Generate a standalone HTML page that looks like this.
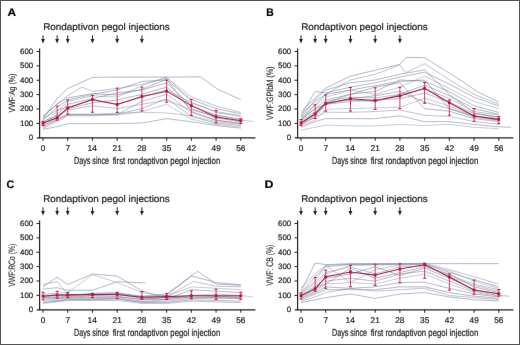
<!DOCTYPE html>
<html><head><meta charset="utf-8"><style>
html,body{margin:0;padding:0;background:#fff;}
svg{display:block;}
#w{width:520px;height:345px;overflow:hidden;}
text{font-family:"Liberation Sans",sans-serif;font-kerning:none;text-rendering:geometricPrecision;}
</style></head><body>
<div id="w"><svg width="520" height="345" viewBox="0 0 520 345">
<defs><filter id="bl" x="0" y="0" width="1" height="1" color-interpolation-filters="sRGB"><feConvolveMatrix order="3" kernelMatrix="0.00163 0.03713 0.00163 0.03713 0.84497 0.03713 0.00163 0.03713 0.00163" divisor="1" edgeMode="duplicate" preserveAlpha="true"/></filter></defs>
<g filter="url(#bl)">
<rect x="0" y="0" width="520" height="345" fill="#fff"/>
<text transform="translate(7.403,15.600) scale(1.0794,1)" style="font-weight:bold;font-size:11.047px;fill:#000;white-space:pre;stroke:#231f20;stroke-width:0.22px;;">A</text>
<text transform="translate(43.187,30.000) scale(1.0255,1)" style="font-size:9.660px;fill:#231f20;white-space:pre;stroke:#231f20;stroke-width:0.22px;;">Rondaptivon pegol injections</text>
<line x1="43.00" y1="35.30" x2="43.00" y2="40.00" stroke="#231f20" stroke-width="1"/>
<path d="M41.10,38.90 L44.90,38.90 L43.00,43.60 Z" fill="#231f20"/>
<line x1="57.13" y1="35.30" x2="57.13" y2="40.00" stroke="#231f20" stroke-width="1"/>
<path d="M55.23,38.90 L59.03,38.90 L57.13,43.60 Z" fill="#231f20"/>
<line x1="67.72" y1="35.30" x2="67.72" y2="40.00" stroke="#231f20" stroke-width="1"/>
<path d="M65.82,38.90 L69.62,38.90 L67.72,43.60 Z" fill="#231f20"/>
<line x1="92.45" y1="35.30" x2="92.45" y2="40.00" stroke="#231f20" stroke-width="1"/>
<path d="M90.55,38.90 L94.35,38.90 L92.45,43.60 Z" fill="#231f20"/>
<line x1="117.18" y1="35.30" x2="117.18" y2="40.00" stroke="#231f20" stroke-width="1"/>
<path d="M115.28,38.90 L119.08,38.90 L117.18,43.60 Z" fill="#231f20"/>
<line x1="141.90" y1="35.30" x2="141.90" y2="40.00" stroke="#231f20" stroke-width="1"/>
<path d="M140.00,38.90 L143.80,38.90 L141.90,43.60 Z" fill="#231f20"/>
<polyline points="43.00,118.67 57.13,98.60 67.72,88.57 92.45,77.39 117.18,77.10 141.90,77.10 166.62,77.10 200.53,76.81 217.49,89.14 240.80,99.60" fill="none" stroke="#66708e" stroke-width="1.0" stroke-opacity="0.5" stroke-linejoin="round"/>
<polyline points="43.00,115.80 57.13,104.33 67.72,95.73 81.85,87.13 92.45,91.43 117.18,88.57 141.90,84.27 166.62,77.82 191.35,96.88 216.08,106.05 240.80,112.50" fill="none" stroke="#8088a4" stroke-width="1.0" stroke-opacity="0.5" stroke-linejoin="round"/>
<polyline points="43.00,120.10 57.13,107.20 67.72,100.03 92.45,94.30 117.18,90.00 141.90,81.40 166.62,79.97 191.35,99.46 216.08,108.63 240.80,113.79" fill="none" stroke="#6c7692" stroke-width="1.0" stroke-opacity="0.5" stroke-linejoin="round"/>
<polyline points="43.00,122.97 57.13,111.50 67.72,101.47 92.45,95.73 117.18,97.17 141.90,85.70 166.62,77.10 191.35,102.18 216.08,112.50 240.80,116.52" fill="none" stroke="#9096ae" stroke-width="1.0" stroke-opacity="0.5" stroke-linejoin="round"/>
<polyline points="43.00,124.40 57.13,114.37 67.72,104.33 92.45,98.60 117.18,92.87 141.90,90.00 166.62,82.83 191.35,106.05 216.08,115.08 240.80,119.10" fill="none" stroke="#68748f" stroke-width="1.0" stroke-opacity="0.5" stroke-linejoin="round"/>
<polyline points="43.00,121.53 57.13,115.80 67.72,108.63 92.45,102.90 117.18,100.03 141.90,94.30 166.62,87.13 191.35,108.63 216.08,117.81 240.80,121.68" fill="none" stroke="#66708e" stroke-width="1.0" stroke-opacity="0.5" stroke-linejoin="round"/>
<polyline points="43.00,125.83 57.13,118.67 67.72,114.37 92.45,114.65 117.18,114.37 141.90,101.47 166.62,94.30 191.35,112.50 216.08,120.39 240.80,122.97" fill="none" stroke="#8088a4" stroke-width="1.0" stroke-opacity="0.5" stroke-linejoin="round"/>
<polyline points="43.00,127.27 57.13,120.10 67.72,115.08 92.45,115.08 117.18,114.08 141.90,108.63 166.62,98.60 191.35,116.52 216.08,122.97 240.80,125.55" fill="none" stroke="#6c7692" stroke-width="1.0" stroke-opacity="0.5" stroke-linejoin="round"/>
<polyline points="43.00,128.70 57.13,121.53 67.72,115.80 92.45,115.80 117.18,115.08 141.90,111.50 166.62,104.33 191.35,119.10 216.08,124.40 240.80,126.98" fill="none" stroke="#9096ae" stroke-width="1.0" stroke-opacity="0.5" stroke-linejoin="round"/>
<polyline points="43.00,129.42 57.13,126.55 67.72,123.68 92.45,123.68 117.18,123.54 141.90,122.97 166.62,118.67 191.35,121.68 216.08,125.55 240.80,128.13" fill="none" stroke="#68748f" stroke-width="1.0" stroke-opacity="0.5" stroke-linejoin="round"/>
<polyline points="43.00,117.23 57.13,103.62 67.72,97.88 92.45,93.58 117.18,95.02 141.90,89.28 166.62,79.25 191.35,111.50 216.08,120.10 240.80,123.68" fill="none" stroke="#66708e" stroke-width="1.0" stroke-opacity="0.5" stroke-linejoin="round"/>
<polyline points="43.00,122.97 57.13,117.23 67.72,110.07 92.45,105.77 117.18,108.63 141.90,104.33 166.62,100.03 191.35,110.07 216.08,115.80 240.80,120.10 253.16,121.53" fill="none" stroke="#8088a4" stroke-width="1.0" stroke-opacity="0.5" stroke-linejoin="round"/>
<polyline points="43.00,118.67 57.13,110.07 67.72,107.20 92.45,100.03 117.18,104.33 141.90,97.17 166.62,90.00 191.35,102.90 216.08,111.50 240.80,115.80" fill="none" stroke="#6c7692" stroke-width="1.0" stroke-opacity="0.5" stroke-linejoin="round"/>
<polyline points="43.00,125.12 57.13,120.10 67.72,114.08 92.45,114.08 117.18,113.22 141.90,112.22 166.62,112.93 191.35,115.80 216.08,121.53 240.80,124.40" fill="none" stroke="#9096ae" stroke-width="1.0" stroke-opacity="0.5" stroke-linejoin="round"/>
<line x1="43.00" y1="125.69" x2="43.00" y2="121.39" stroke="#d03a66" stroke-width="1.0"/>
<line x1="41.50" y1="125.69" x2="44.50" y2="125.69" stroke="#b3173f" stroke-width="1"/>
<line x1="41.50" y1="121.39" x2="44.50" y2="121.39" stroke="#b3173f" stroke-width="1"/>
<line x1="57.13" y1="120.10" x2="57.13" y2="106.05" stroke="#d03a66" stroke-width="1.0"/>
<line x1="55.63" y1="120.10" x2="58.63" y2="120.10" stroke="#b3173f" stroke-width="1"/>
<line x1="55.63" y1="106.05" x2="58.63" y2="106.05" stroke="#b3173f" stroke-width="1"/>
<line x1="67.72" y1="114.22" x2="67.72" y2="100.03" stroke="#d03a66" stroke-width="1.0"/>
<line x1="66.22" y1="114.22" x2="69.22" y2="114.22" stroke="#b3173f" stroke-width="1"/>
<line x1="66.22" y1="100.03" x2="69.22" y2="100.03" stroke="#b3173f" stroke-width="1"/>
<line x1="92.45" y1="112.22" x2="92.45" y2="95.59" stroke="#d03a66" stroke-width="1.0"/>
<line x1="90.95" y1="112.22" x2="93.95" y2="112.22" stroke="#b3173f" stroke-width="1"/>
<line x1="90.95" y1="95.59" x2="93.95" y2="95.59" stroke="#b3173f" stroke-width="1"/>
<line x1="117.18" y1="112.36" x2="117.18" y2="88.14" stroke="#d03a66" stroke-width="1.0"/>
<line x1="115.68" y1="112.36" x2="118.68" y2="112.36" stroke="#b3173f" stroke-width="1"/>
<line x1="115.68" y1="88.14" x2="118.68" y2="88.14" stroke="#b3173f" stroke-width="1"/>
<line x1="141.90" y1="110.93" x2="141.90" y2="87.13" stroke="#d03a66" stroke-width="1.0"/>
<line x1="140.40" y1="110.93" x2="143.40" y2="110.93" stroke="#b3173f" stroke-width="1"/>
<line x1="140.40" y1="87.13" x2="143.40" y2="87.13" stroke="#b3173f" stroke-width="1"/>
<line x1="166.62" y1="102.18" x2="166.62" y2="80.11" stroke="#d03a66" stroke-width="1.0"/>
<line x1="165.12" y1="102.18" x2="168.12" y2="102.18" stroke="#b3173f" stroke-width="1"/>
<line x1="165.12" y1="80.11" x2="168.12" y2="80.11" stroke="#b3173f" stroke-width="1"/>
<line x1="191.35" y1="115.37" x2="191.35" y2="99.46" stroke="#d03a66" stroke-width="1.0"/>
<line x1="189.85" y1="115.37" x2="192.85" y2="115.37" stroke="#b3173f" stroke-width="1"/>
<line x1="189.85" y1="99.46" x2="192.85" y2="99.46" stroke="#b3173f" stroke-width="1"/>
<line x1="216.08" y1="122.97" x2="216.08" y2="110.35" stroke="#d03a66" stroke-width="1.0"/>
<line x1="214.58" y1="122.97" x2="217.58" y2="122.97" stroke="#b3173f" stroke-width="1"/>
<line x1="214.58" y1="110.35" x2="217.58" y2="110.35" stroke="#b3173f" stroke-width="1"/>
<line x1="240.80" y1="123.54" x2="240.80" y2="118.81" stroke="#d03a66" stroke-width="1.0"/>
<line x1="239.30" y1="123.54" x2="242.30" y2="123.54" stroke="#b3173f" stroke-width="1"/>
<line x1="239.30" y1="118.81" x2="242.30" y2="118.81" stroke="#b3173f" stroke-width="1"/>
<polyline points="43.00,123.25 57.13,117.66 67.72,107.92 92.45,99.60 117.18,104.48 141.90,96.45 166.62,91.15 191.35,105.62 216.08,116.95 240.80,120.67" fill="none" stroke="#b3173f" stroke-width="1.05" stroke-linejoin="round"/>
<rect x="41.60" y="121.85" width="2.8" height="2.8" fill="#b3173f"/>
<rect x="55.73" y="116.26" width="2.8" height="2.8" fill="#b3173f"/>
<rect x="66.32" y="106.52" width="2.8" height="2.8" fill="#b3173f"/>
<rect x="91.05" y="98.20" width="2.8" height="2.8" fill="#b3173f"/>
<rect x="115.78" y="103.08" width="2.8" height="2.8" fill="#b3173f"/>
<rect x="140.50" y="95.05" width="2.8" height="2.8" fill="#b3173f"/>
<rect x="165.22" y="89.75" width="2.8" height="2.8" fill="#b3173f"/>
<rect x="189.95" y="104.22" width="2.8" height="2.8" fill="#b3173f"/>
<rect x="214.68" y="115.55" width="2.8" height="2.8" fill="#b3173f"/>
<rect x="239.40" y="119.27" width="2.8" height="2.8" fill="#b3173f"/>
<line x1="39.60" y1="48.40" x2="39.60" y2="138.25" stroke="#231f20" stroke-width="1.2"/>
<line x1="36.80" y1="137.85" x2="255.40" y2="137.85" stroke="#231f20" stroke-width="1.35"/>
<line x1="36.50" y1="123.38" x2="39.60" y2="123.38" stroke="#231f20" stroke-width="1"/>
<line x1="36.50" y1="109.00" x2="39.60" y2="109.00" stroke="#231f20" stroke-width="1"/>
<line x1="36.50" y1="94.62" x2="39.60" y2="94.62" stroke="#231f20" stroke-width="1"/>
<line x1="36.50" y1="80.25" x2="39.60" y2="80.25" stroke="#231f20" stroke-width="1"/>
<line x1="36.50" y1="65.88" x2="39.60" y2="65.88" stroke="#231f20" stroke-width="1"/>
<line x1="36.50" y1="51.50" x2="39.60" y2="51.50" stroke="#231f20" stroke-width="1"/>
<text transform="translate(28.827,140.100) scale(1.0000,1)" style="font-size:7.877px;fill:#231f20;white-space:pre;stroke:#231f20;stroke-width:0.22px;">0</text>
<text transform="translate(20.065,125.725) scale(1.0000,1)" style="font-size:7.877px;fill:#231f20;white-space:pre;stroke:#231f20;stroke-width:0.22px;">100</text>
<text transform="translate(20.065,111.350) scale(1.0000,1)" style="font-size:7.877px;fill:#231f20;white-space:pre;stroke:#231f20;stroke-width:0.22px;">200</text>
<text transform="translate(20.065,96.975) scale(1.0000,1)" style="font-size:7.877px;fill:#231f20;white-space:pre;stroke:#231f20;stroke-width:0.22px;">300</text>
<text transform="translate(20.065,82.600) scale(1.0000,1)" style="font-size:7.877px;fill:#231f20;white-space:pre;stroke:#231f20;stroke-width:0.22px;">400</text>
<text transform="translate(20.065,68.225) scale(1.0000,1)" style="font-size:7.877px;fill:#231f20;white-space:pre;stroke:#231f20;stroke-width:0.22px;">500</text>
<text transform="translate(20.065,53.850) scale(1.0000,1)" style="font-size:7.877px;fill:#231f20;white-space:pre;stroke:#231f20;stroke-width:0.22px;">600</text>
<line x1="43.00" y1="137.75" x2="43.00" y2="140.75" stroke="#231f20" stroke-width="1"/>
<text transform="translate(40.690,150.700) scale(1.0000,1)" style="font-size:8.307px;fill:#231f20;white-space:pre;stroke:#231f20;stroke-width:0.22px;">0</text>
<line x1="67.72" y1="137.75" x2="67.72" y2="140.75" stroke="#231f20" stroke-width="1"/>
<text transform="translate(65.377,150.700) scale(1.0000,1)" style="font-size:8.430px;fill:#231f20;white-space:pre;stroke:#231f20;stroke-width:0.22px;">7</text>
<line x1="92.45" y1="137.75" x2="92.45" y2="140.75" stroke="#231f20" stroke-width="1"/>
<text transform="translate(87.564,150.700) scale(1.0000,1)" style="font-size:8.430px;fill:#231f20;white-space:pre;stroke:#231f20;stroke-width:0.22px;">14</text>
<line x1="117.18" y1="137.75" x2="117.18" y2="140.75" stroke="#231f20" stroke-width="1"/>
<text transform="translate(112.549,150.700) scale(1.0000,1)" style="font-size:8.307px;fill:#231f20;white-space:pre;stroke:#231f20;stroke-width:0.22px;">21</text>
<line x1="141.90" y1="137.75" x2="141.90" y2="140.75" stroke="#231f20" stroke-width="1"/>
<text transform="translate(137.252,150.700) scale(1.0000,1)" style="font-size:8.307px;fill:#231f20;white-space:pre;stroke:#231f20;stroke-width:0.22px;">28</text>
<line x1="166.62" y1="137.75" x2="166.62" y2="140.75" stroke="#231f20" stroke-width="1"/>
<text transform="translate(162.022,150.700) scale(1.0000,1)" style="font-size:8.307px;fill:#231f20;white-space:pre;stroke:#231f20;stroke-width:0.22px;">35</text>
<line x1="191.35" y1="137.75" x2="191.35" y2="140.75" stroke="#231f20" stroke-width="1"/>
<text transform="translate(186.844,150.700) scale(1.0000,1)" style="font-size:8.307px;fill:#231f20;white-space:pre;stroke:#231f20;stroke-width:0.22px;">42</text>
<line x1="216.08" y1="137.75" x2="216.08" y2="140.75" stroke="#231f20" stroke-width="1"/>
<text transform="translate(211.557,150.700) scale(1.0000,1)" style="font-size:8.307px;fill:#231f20;white-space:pre;stroke:#231f20;stroke-width:0.22px;">49</text>
<line x1="240.80" y1="137.75" x2="240.80" y2="140.75" stroke="#231f20" stroke-width="1"/>
<text transform="translate(236.197,150.700) scale(1.0000,1)" style="font-size:8.307px;fill:#231f20;white-space:pre;stroke:#231f20;stroke-width:0.22px;">56</text>
<text transform="translate(74.011,163.900) scale(0.6982,1)" style="font-size:10.281px;fill:#231f20;white-space:pre;stroke:#231f20;stroke-width:0.22px;;">Days since</text>
<text transform="translate(112.689,163.900) scale(0.7974,1)" style="font-size:9.798px;fill:#231f20;white-space:pre;stroke:#231f20;stroke-width:0.22px;;">first rondaptivon pegol injection</text>
<text transform="translate(14.500,112.531) rotate(-90) scale(0.7798,1)" style="font-size:8.970px;fill:#231f20;white-space:pre;stroke:#231f20;stroke-width:0.12px;">VWF:Ag (%)</text>
<text transform="translate(266.309,15.600) scale(0.9351,1)" style="font-weight:bold;font-size:11.047px;fill:#000;white-space:pre;stroke:#231f20;stroke-width:0.22px;;">B</text>
<text transform="translate(301.187,30.000) scale(1.0255,1)" style="font-size:9.660px;fill:#231f20;white-space:pre;stroke:#231f20;stroke-width:0.22px;;">Rondaptivon pegol injections</text>
<line x1="301.00" y1="35.30" x2="301.00" y2="40.00" stroke="#231f20" stroke-width="1"/>
<path d="M299.10,38.90 L302.90,38.90 L301.00,43.60 Z" fill="#231f20"/>
<line x1="315.13" y1="35.30" x2="315.13" y2="40.00" stroke="#231f20" stroke-width="1"/>
<path d="M313.23,38.90 L317.03,38.90 L315.13,43.60 Z" fill="#231f20"/>
<line x1="325.73" y1="35.30" x2="325.73" y2="40.00" stroke="#231f20" stroke-width="1"/>
<path d="M323.83,38.90 L327.62,38.90 L325.73,43.60 Z" fill="#231f20"/>
<line x1="350.45" y1="35.30" x2="350.45" y2="40.00" stroke="#231f20" stroke-width="1"/>
<path d="M348.55,38.90 L352.35,38.90 L350.45,43.60 Z" fill="#231f20"/>
<line x1="375.18" y1="35.30" x2="375.18" y2="40.00" stroke="#231f20" stroke-width="1"/>
<path d="M373.28,38.90 L377.07,38.90 L375.18,43.60 Z" fill="#231f20"/>
<line x1="399.90" y1="35.30" x2="399.90" y2="40.00" stroke="#231f20" stroke-width="1"/>
<path d="M398.00,38.90 L401.80,38.90 L399.90,43.60 Z" fill="#231f20"/>
<polyline points="301.00,111.50 325.73,88.14 350.45,76.10 375.18,70.22 399.90,64.34 405.90,57.61 424.62,57.61 456.77,77.67 477.61,91.72 498.80,102.18" fill="none" stroke="#66708e" stroke-width="1.0" stroke-opacity="0.5" stroke-linejoin="round"/>
<polyline points="301.00,114.37 315.13,101.47 325.73,94.30 350.45,79.97 375.18,74.23 399.90,64.92 405.90,72.66 424.62,63.63 449.35,79.97 474.08,94.30 498.80,104.33" fill="none" stroke="#8088a4" stroke-width="1.0" stroke-opacity="0.5" stroke-linejoin="round"/>
<polyline points="301.00,115.80 315.13,91.43 325.73,92.87 350.45,87.13 375.18,82.83 399.90,77.10 424.62,72.23 449.35,84.12 474.08,97.17 498.80,106.05" fill="none" stroke="#6c7692" stroke-width="1.0" stroke-opacity="0.5" stroke-linejoin="round"/>
<polyline points="301.00,117.23 315.13,105.77 325.73,97.17 350.45,90.00 375.18,94.30 399.90,87.13 424.62,76.10 449.35,88.57 474.08,101.47 498.80,108.63" fill="none" stroke="#9096ae" stroke-width="1.0" stroke-opacity="0.5" stroke-linejoin="round"/>
<polyline points="301.00,120.10 315.13,108.63 325.73,100.03 350.45,94.30 375.18,91.43 399.90,79.97 424.62,81.26 449.35,91.72 474.08,105.77 498.80,112.50" fill="none" stroke="#68748f" stroke-width="1.0" stroke-opacity="0.5" stroke-linejoin="round"/>
<polyline points="301.00,121.53 315.13,111.50 325.73,102.90 350.45,100.03 375.18,101.47 399.90,94.30 424.62,85.13 449.35,95.73 474.08,108.63 498.80,114.37" fill="none" stroke="#66708e" stroke-width="1.0" stroke-opacity="0.5" stroke-linejoin="round"/>
<polyline points="301.00,122.97 315.13,115.80 325.73,101.47 350.45,97.17 375.18,97.88 399.90,94.30 424.62,89.14 449.35,98.17 474.08,111.50 498.80,115.08" fill="none" stroke="#8088a4" stroke-width="1.0" stroke-opacity="0.5" stroke-linejoin="round"/>
<polyline points="301.00,124.40 315.13,117.23 325.73,104.33 350.45,101.47 375.18,100.03 399.90,98.60 424.62,93.01 449.35,102.18 474.08,113.65 498.80,117.23" fill="none" stroke="#6c7692" stroke-width="1.0" stroke-opacity="0.5" stroke-linejoin="round"/>
<polyline points="301.00,125.83 315.13,120.10 325.73,109.35 350.45,108.49 375.18,107.92 399.90,107.20 424.62,98.17 449.35,106.05 474.08,115.80 498.80,118.67" fill="none" stroke="#9096ae" stroke-width="1.0" stroke-opacity="0.5" stroke-linejoin="round"/>
<polyline points="301.00,118.67 315.13,108.63 325.73,104.33 350.45,98.60 375.18,95.73 399.90,91.43 424.62,102.18 449.35,108.63 474.08,117.23 498.80,120.39" fill="none" stroke="#68748f" stroke-width="1.0" stroke-opacity="0.5" stroke-linejoin="round"/>
<polyline points="301.00,122.97 315.13,112.93 325.73,102.90 350.45,94.30 375.18,87.13 399.90,82.83 424.62,108.63 449.35,111.21 474.08,118.67 498.80,121.53" fill="none" stroke="#66708e" stroke-width="1.0" stroke-opacity="0.5" stroke-linejoin="round"/>
<polyline points="301.00,124.40 315.13,117.23 325.73,112.22 350.45,112.36 375.18,111.50 399.90,110.07 424.62,115.23 449.35,116.52 474.08,121.53 498.80,124.26" fill="none" stroke="#8088a4" stroke-width="1.0" stroke-opacity="0.5" stroke-linejoin="round"/>
<polyline points="301.00,127.27 315.13,121.53 325.73,118.67 350.45,118.67 375.18,118.67 399.90,115.80 424.62,121.68 449.35,121.68 474.08,124.40 498.80,126.84 511.16,127.27" fill="none" stroke="#6c7692" stroke-width="1.0" stroke-opacity="0.5" stroke-linejoin="round"/>
<polyline points="301.00,130.13 315.13,127.27 325.73,125.12 350.45,125.83 375.18,125.83 399.90,124.40 424.62,125.55 449.35,124.26 474.08,127.27 498.80,128.70" fill="none" stroke="#9096ae" stroke-width="1.0" stroke-opacity="0.5" stroke-linejoin="round"/>
<polyline points="301.00,117.23 315.13,100.03 325.73,90.00 350.45,82.83 375.18,79.97 399.90,74.23 424.62,69.93 449.35,94.30 474.08,112.93 498.80,117.23" fill="none" stroke="#68748f" stroke-width="1.0" stroke-opacity="0.5" stroke-linejoin="round"/>
<polyline points="301.00,120.10 315.13,104.33 325.73,94.30 350.45,90.00 375.18,85.70 399.90,81.40 424.62,79.97 449.35,108.63 474.08,115.80 498.80,120.10" fill="none" stroke="#66708e" stroke-width="1.0" stroke-opacity="0.5" stroke-linejoin="round"/>
<line x1="301.00" y1="125.40" x2="301.00" y2="119.53" stroke="#d03a66" stroke-width="1.0"/>
<line x1="299.50" y1="125.40" x2="302.50" y2="125.40" stroke="#b3173f" stroke-width="1"/>
<line x1="299.50" y1="119.53" x2="302.50" y2="119.53" stroke="#b3173f" stroke-width="1"/>
<line x1="315.13" y1="118.52" x2="315.13" y2="104.76" stroke="#d03a66" stroke-width="1.0"/>
<line x1="313.63" y1="118.52" x2="316.63" y2="118.52" stroke="#b3173f" stroke-width="1"/>
<line x1="313.63" y1="104.76" x2="316.63" y2="104.76" stroke="#b3173f" stroke-width="1"/>
<line x1="325.73" y1="111.21" x2="325.73" y2="94.87" stroke="#d03a66" stroke-width="1.0"/>
<line x1="324.23" y1="111.21" x2="327.23" y2="111.21" stroke="#b3173f" stroke-width="1"/>
<line x1="324.23" y1="94.87" x2="327.23" y2="94.87" stroke="#b3173f" stroke-width="1"/>
<line x1="350.45" y1="111.07" x2="350.45" y2="87.56" stroke="#d03a66" stroke-width="1.0"/>
<line x1="348.95" y1="111.07" x2="351.95" y2="111.07" stroke="#b3173f" stroke-width="1"/>
<line x1="348.95" y1="87.56" x2="351.95" y2="87.56" stroke="#b3173f" stroke-width="1"/>
<line x1="375.18" y1="109.35" x2="375.18" y2="87.85" stroke="#d03a66" stroke-width="1.0"/>
<line x1="373.68" y1="109.35" x2="376.68" y2="109.35" stroke="#b3173f" stroke-width="1"/>
<line x1="373.68" y1="87.85" x2="376.68" y2="87.85" stroke="#b3173f" stroke-width="1"/>
<line x1="399.90" y1="108.63" x2="399.90" y2="87.28" stroke="#d03a66" stroke-width="1.0"/>
<line x1="398.40" y1="108.63" x2="401.40" y2="108.63" stroke="#b3173f" stroke-width="1"/>
<line x1="398.40" y1="87.28" x2="401.40" y2="87.28" stroke="#b3173f" stroke-width="1"/>
<line x1="424.62" y1="103.33" x2="424.62" y2="82.55" stroke="#d03a66" stroke-width="1.0"/>
<line x1="423.12" y1="103.33" x2="426.12" y2="103.33" stroke="#b3173f" stroke-width="1"/>
<line x1="423.12" y1="82.55" x2="426.12" y2="82.55" stroke="#b3173f" stroke-width="1"/>
<line x1="449.35" y1="115.23" x2="449.35" y2="99.89" stroke="#d03a66" stroke-width="1.0"/>
<line x1="447.85" y1="115.23" x2="450.85" y2="115.23" stroke="#b3173f" stroke-width="1"/>
<line x1="447.85" y1="99.89" x2="450.85" y2="99.89" stroke="#b3173f" stroke-width="1"/>
<line x1="474.08" y1="121.25" x2="474.08" y2="108.49" stroke="#d03a66" stroke-width="1.0"/>
<line x1="472.58" y1="121.25" x2="475.58" y2="121.25" stroke="#b3173f" stroke-width="1"/>
<line x1="472.58" y1="108.49" x2="475.58" y2="108.49" stroke="#b3173f" stroke-width="1"/>
<line x1="498.80" y1="123.54" x2="498.80" y2="116.52" stroke="#d03a66" stroke-width="1.0"/>
<line x1="497.30" y1="123.54" x2="500.30" y2="123.54" stroke="#b3173f" stroke-width="1"/>
<line x1="497.30" y1="116.52" x2="500.30" y2="116.52" stroke="#b3173f" stroke-width="1"/>
<polyline points="301.00,122.97 315.13,113.94 325.73,103.47 350.45,98.74 375.18,100.46 399.90,95.88 424.62,88.28 449.35,102.76 474.08,115.94 498.80,119.38" fill="none" stroke="#b3173f" stroke-width="1.05" stroke-linejoin="round"/>
<rect x="299.60" y="121.57" width="2.8" height="2.8" fill="#b3173f"/>
<rect x="313.73" y="112.54" width="2.8" height="2.8" fill="#b3173f"/>
<rect x="324.33" y="102.07" width="2.8" height="2.8" fill="#b3173f"/>
<rect x="349.05" y="97.34" width="2.8" height="2.8" fill="#b3173f"/>
<rect x="373.78" y="99.06" width="2.8" height="2.8" fill="#b3173f"/>
<rect x="398.50" y="94.48" width="2.8" height="2.8" fill="#b3173f"/>
<rect x="423.23" y="86.88" width="2.8" height="2.8" fill="#b3173f"/>
<rect x="447.95" y="101.36" width="2.8" height="2.8" fill="#b3173f"/>
<rect x="472.68" y="114.54" width="2.8" height="2.8" fill="#b3173f"/>
<rect x="497.40" y="117.98" width="2.8" height="2.8" fill="#b3173f"/>
<line x1="297.60" y1="48.40" x2="297.60" y2="138.25" stroke="#231f20" stroke-width="1.2"/>
<line x1="294.80" y1="137.85" x2="513.40" y2="137.85" stroke="#231f20" stroke-width="1.35"/>
<line x1="294.50" y1="123.38" x2="297.60" y2="123.38" stroke="#231f20" stroke-width="1"/>
<line x1="294.50" y1="109.00" x2="297.60" y2="109.00" stroke="#231f20" stroke-width="1"/>
<line x1="294.50" y1="94.62" x2="297.60" y2="94.62" stroke="#231f20" stroke-width="1"/>
<line x1="294.50" y1="80.25" x2="297.60" y2="80.25" stroke="#231f20" stroke-width="1"/>
<line x1="294.50" y1="65.88" x2="297.60" y2="65.88" stroke="#231f20" stroke-width="1"/>
<line x1="294.50" y1="51.50" x2="297.60" y2="51.50" stroke="#231f20" stroke-width="1"/>
<text transform="translate(286.827,140.100) scale(1.0000,1)" style="font-size:7.877px;fill:#231f20;white-space:pre;stroke:#231f20;stroke-width:0.22px;">0</text>
<text transform="translate(278.065,125.725) scale(1.0000,1)" style="font-size:7.877px;fill:#231f20;white-space:pre;stroke:#231f20;stroke-width:0.22px;">100</text>
<text transform="translate(278.065,111.350) scale(1.0000,1)" style="font-size:7.877px;fill:#231f20;white-space:pre;stroke:#231f20;stroke-width:0.22px;">200</text>
<text transform="translate(278.065,96.975) scale(1.0000,1)" style="font-size:7.877px;fill:#231f20;white-space:pre;stroke:#231f20;stroke-width:0.22px;">300</text>
<text transform="translate(278.065,82.600) scale(1.0000,1)" style="font-size:7.877px;fill:#231f20;white-space:pre;stroke:#231f20;stroke-width:0.22px;">400</text>
<text transform="translate(278.065,68.225) scale(1.0000,1)" style="font-size:7.877px;fill:#231f20;white-space:pre;stroke:#231f20;stroke-width:0.22px;">500</text>
<text transform="translate(278.065,53.850) scale(1.0000,1)" style="font-size:7.877px;fill:#231f20;white-space:pre;stroke:#231f20;stroke-width:0.22px;">600</text>
<line x1="301.00" y1="137.75" x2="301.00" y2="140.75" stroke="#231f20" stroke-width="1"/>
<text transform="translate(298.690,150.700) scale(1.0000,1)" style="font-size:8.307px;fill:#231f20;white-space:pre;stroke:#231f20;stroke-width:0.22px;">0</text>
<line x1="325.73" y1="137.75" x2="325.73" y2="140.75" stroke="#231f20" stroke-width="1"/>
<text transform="translate(323.377,150.700) scale(1.0000,1)" style="font-size:8.430px;fill:#231f20;white-space:pre;stroke:#231f20;stroke-width:0.22px;">7</text>
<line x1="350.45" y1="137.75" x2="350.45" y2="140.75" stroke="#231f20" stroke-width="1"/>
<text transform="translate(345.564,150.700) scale(1.0000,1)" style="font-size:8.430px;fill:#231f20;white-space:pre;stroke:#231f20;stroke-width:0.22px;">14</text>
<line x1="375.18" y1="137.75" x2="375.18" y2="140.75" stroke="#231f20" stroke-width="1"/>
<text transform="translate(370.549,150.700) scale(1.0000,1)" style="font-size:8.307px;fill:#231f20;white-space:pre;stroke:#231f20;stroke-width:0.22px;">21</text>
<line x1="399.90" y1="137.75" x2="399.90" y2="140.75" stroke="#231f20" stroke-width="1"/>
<text transform="translate(395.252,150.700) scale(1.0000,1)" style="font-size:8.307px;fill:#231f20;white-space:pre;stroke:#231f20;stroke-width:0.22px;">28</text>
<line x1="424.62" y1="137.75" x2="424.62" y2="140.75" stroke="#231f20" stroke-width="1"/>
<text transform="translate(420.022,150.700) scale(1.0000,1)" style="font-size:8.307px;fill:#231f20;white-space:pre;stroke:#231f20;stroke-width:0.22px;">35</text>
<line x1="449.35" y1="137.75" x2="449.35" y2="140.75" stroke="#231f20" stroke-width="1"/>
<text transform="translate(444.844,150.700) scale(1.0000,1)" style="font-size:8.307px;fill:#231f20;white-space:pre;stroke:#231f20;stroke-width:0.22px;">42</text>
<line x1="474.08" y1="137.75" x2="474.08" y2="140.75" stroke="#231f20" stroke-width="1"/>
<text transform="translate(469.557,150.700) scale(1.0000,1)" style="font-size:8.307px;fill:#231f20;white-space:pre;stroke:#231f20;stroke-width:0.22px;">49</text>
<line x1="498.80" y1="137.75" x2="498.80" y2="140.75" stroke="#231f20" stroke-width="1"/>
<text transform="translate(494.197,150.700) scale(1.0000,1)" style="font-size:8.307px;fill:#231f20;white-space:pre;stroke:#231f20;stroke-width:0.22px;">56</text>
<text transform="translate(332.011,163.900) scale(0.6982,1)" style="font-size:10.281px;fill:#231f20;white-space:pre;stroke:#231f20;stroke-width:0.22px;;">Days since</text>
<text transform="translate(370.689,163.900) scale(0.7974,1)" style="font-size:9.798px;fill:#231f20;white-space:pre;stroke:#231f20;stroke-width:0.22px;;">first rondaptivon pegol injection</text>
<text transform="translate(272.800,119.932) rotate(-90) scale(0.7769,1)" style="font-size:9.246px;fill:#231f20;white-space:pre;stroke:#231f20;stroke-width:0.12px;">VWF:GPIbM (%)</text>
<text transform="translate(6.561,187.600) scale(0.9836,1)" style="font-weight:bold;font-size:10.884px;fill:#000;white-space:pre;stroke:#231f20;stroke-width:0.22px;;">C</text>
<text transform="translate(43.187,202.000) scale(1.0255,1)" style="font-size:9.660px;fill:#231f20;white-space:pre;stroke:#231f20;stroke-width:0.22px;;">Rondaptivon pegol injections</text>
<line x1="43.00" y1="207.30" x2="43.00" y2="212.00" stroke="#231f20" stroke-width="1"/>
<path d="M41.10,210.90 L44.90,210.90 L43.00,215.60 Z" fill="#231f20"/>
<line x1="57.13" y1="207.30" x2="57.13" y2="212.00" stroke="#231f20" stroke-width="1"/>
<path d="M55.23,210.90 L59.03,210.90 L57.13,215.60 Z" fill="#231f20"/>
<line x1="67.72" y1="207.30" x2="67.72" y2="212.00" stroke="#231f20" stroke-width="1"/>
<path d="M65.82,210.90 L69.62,210.90 L67.72,215.60 Z" fill="#231f20"/>
<line x1="92.45" y1="207.30" x2="92.45" y2="212.00" stroke="#231f20" stroke-width="1"/>
<path d="M90.55,210.90 L94.35,210.90 L92.45,215.60 Z" fill="#231f20"/>
<line x1="117.18" y1="207.30" x2="117.18" y2="212.00" stroke="#231f20" stroke-width="1"/>
<path d="M115.28,210.90 L119.08,210.90 L117.18,215.60 Z" fill="#231f20"/>
<line x1="141.90" y1="207.30" x2="141.90" y2="212.00" stroke="#231f20" stroke-width="1"/>
<path d="M140.00,210.90 L143.80,210.90 L141.90,215.60 Z" fill="#231f20"/>
<polyline points="43.00,286.58 57.13,277.12 67.72,284.57 92.45,273.97 117.18,276.12 141.90,291.02 166.62,298.33 191.35,295.47 216.08,296.18 240.80,297.62" fill="none" stroke="#66708e" stroke-width="1.0" stroke-opacity="0.5" stroke-linejoin="round"/>
<polyline points="43.00,284.57 57.13,281.56 67.72,294.61 92.45,295.47 117.18,294.75 141.90,297.62 166.62,299.77 191.35,296.90 216.08,297.62 240.80,298.33" fill="none" stroke="#8088a4" stroke-width="1.0" stroke-opacity="0.5" stroke-linejoin="round"/>
<polyline points="43.00,289.02 57.13,287.73 67.72,290.31 92.45,290.31 117.18,281.71 145.43,282.85" fill="none" stroke="#6c7692" stroke-width="1.0" stroke-opacity="0.5" stroke-linejoin="round"/>
<polyline points="43.00,294.03 57.13,293.32 67.72,292.60 92.45,274.68 117.18,282.57 141.90,292.60 166.62,296.18 191.35,286.87 216.08,288.30 240.80,289.73" fill="none" stroke="#9096ae" stroke-width="1.0" stroke-opacity="0.5" stroke-linejoin="round"/>
<polyline points="43.00,295.47 57.13,294.75 67.72,295.47 92.45,294.03 117.18,293.32 141.90,296.18 166.62,294.03 197.71,271.24 216.08,284.00 240.80,285.43" fill="none" stroke="#68748f" stroke-width="1.0" stroke-opacity="0.5" stroke-linejoin="round"/>
<polyline points="43.00,296.18 57.13,295.47 67.72,295.47 92.45,293.32 117.18,292.60 141.90,296.90 166.62,295.47 191.35,275.97 216.08,282.57 240.80,284.72" fill="none" stroke="#66708e" stroke-width="1.0" stroke-opacity="0.5" stroke-linejoin="round"/>
<polyline points="43.00,296.90 57.13,296.90 67.72,296.18 92.45,295.47 117.18,294.03 141.90,298.33 166.62,296.90 193.47,281.42 216.08,286.15 240.80,286.87" fill="none" stroke="#8088a4" stroke-width="1.0" stroke-opacity="0.5" stroke-linejoin="round"/>
<polyline points="43.00,298.33 57.13,297.62 67.72,296.90 92.45,296.18 117.18,296.18 141.90,299.77 166.62,299.05 191.35,289.73 216.08,291.17 240.80,292.60" fill="none" stroke="#6c7692" stroke-width="1.0" stroke-opacity="0.5" stroke-linejoin="round"/>
<polyline points="43.00,299.77 57.13,299.05 67.72,298.33 92.45,298.33 117.18,297.62 141.90,301.20 166.62,299.77 191.35,295.47 216.08,294.03 240.80,295.47 253.52,297.19" fill="none" stroke="#9096ae" stroke-width="1.0" stroke-opacity="0.5" stroke-linejoin="round"/>
<polyline points="43.00,301.20 57.13,300.48 67.72,299.05 92.45,299.05 117.18,298.33 141.90,301.92 166.62,301.20 191.35,298.33 216.08,298.33 240.80,298.33" fill="none" stroke="#68748f" stroke-width="1.0" stroke-opacity="0.5" stroke-linejoin="round"/>
<polyline points="43.00,302.63 57.13,301.20 67.72,299.77 92.45,299.77 117.18,299.05 141.90,302.63 166.62,302.63 191.35,299.77 216.08,300.48 240.80,301.20" fill="none" stroke="#66708e" stroke-width="1.0" stroke-opacity="0.5" stroke-linejoin="round"/>
<polyline points="43.00,303.35 57.13,301.92 67.72,300.48 92.45,300.48 117.18,300.48 141.90,303.35 166.62,303.35 191.35,301.20 216.08,301.92 240.80,302.63" fill="none" stroke="#8088a4" stroke-width="1.0" stroke-opacity="0.5" stroke-linejoin="round"/>
<polyline points="43.00,297.62 57.13,298.33 67.72,297.62 92.45,297.62 117.18,296.90 141.90,299.05 166.62,297.62 191.35,297.62 216.08,296.90 240.80,296.90" fill="none" stroke="#6c7692" stroke-width="1.0" stroke-opacity="0.5" stroke-linejoin="round"/>
<line x1="43.00" y1="299.77" x2="43.00" y2="292.31" stroke="#d03a66" stroke-width="1.0"/>
<line x1="41.50" y1="299.77" x2="44.50" y2="299.77" stroke="#b3173f" stroke-width="1"/>
<line x1="41.50" y1="292.31" x2="44.50" y2="292.31" stroke="#b3173f" stroke-width="1"/>
<line x1="57.13" y1="298.19" x2="57.13" y2="291.31" stroke="#d03a66" stroke-width="1.0"/>
<line x1="55.63" y1="298.19" x2="58.63" y2="298.19" stroke="#b3173f" stroke-width="1"/>
<line x1="55.63" y1="291.31" x2="58.63" y2="291.31" stroke="#b3173f" stroke-width="1"/>
<line x1="67.72" y1="297.62" x2="67.72" y2="292.31" stroke="#d03a66" stroke-width="1.0"/>
<line x1="66.22" y1="297.62" x2="69.22" y2="297.62" stroke="#b3173f" stroke-width="1"/>
<line x1="66.22" y1="292.31" x2="69.22" y2="292.31" stroke="#b3173f" stroke-width="1"/>
<line x1="92.45" y1="297.62" x2="92.45" y2="293.32" stroke="#d03a66" stroke-width="1.0"/>
<line x1="90.95" y1="297.62" x2="93.95" y2="297.62" stroke="#b3173f" stroke-width="1"/>
<line x1="90.95" y1="293.32" x2="93.95" y2="293.32" stroke="#b3173f" stroke-width="1"/>
<line x1="117.18" y1="298.62" x2="117.18" y2="292.31" stroke="#d03a66" stroke-width="1.0"/>
<line x1="115.68" y1="298.62" x2="118.68" y2="298.62" stroke="#b3173f" stroke-width="1"/>
<line x1="115.68" y1="292.31" x2="118.68" y2="292.31" stroke="#b3173f" stroke-width="1"/>
<line x1="141.90" y1="299.34" x2="141.90" y2="291.60" stroke="#d03a66" stroke-width="1.0"/>
<line x1="140.40" y1="299.34" x2="143.40" y2="299.34" stroke="#b3173f" stroke-width="1"/>
<line x1="140.40" y1="291.60" x2="143.40" y2="291.60" stroke="#b3173f" stroke-width="1"/>
<line x1="166.62" y1="299.48" x2="166.62" y2="293.60" stroke="#d03a66" stroke-width="1.0"/>
<line x1="165.12" y1="299.48" x2="168.12" y2="299.48" stroke="#b3173f" stroke-width="1"/>
<line x1="165.12" y1="293.60" x2="168.12" y2="293.60" stroke="#b3173f" stroke-width="1"/>
<line x1="191.35" y1="298.76" x2="191.35" y2="290.88" stroke="#d03a66" stroke-width="1.0"/>
<line x1="189.85" y1="298.76" x2="192.85" y2="298.76" stroke="#b3173f" stroke-width="1"/>
<line x1="189.85" y1="290.88" x2="192.85" y2="290.88" stroke="#b3173f" stroke-width="1"/>
<line x1="216.08" y1="299.34" x2="216.08" y2="289.16" stroke="#d03a66" stroke-width="1.0"/>
<line x1="214.58" y1="299.34" x2="217.58" y2="299.34" stroke="#b3173f" stroke-width="1"/>
<line x1="214.58" y1="289.16" x2="217.58" y2="289.16" stroke="#b3173f" stroke-width="1"/>
<line x1="240.80" y1="299.34" x2="240.80" y2="292.17" stroke="#d03a66" stroke-width="1.0"/>
<line x1="239.30" y1="299.34" x2="242.30" y2="299.34" stroke="#b3173f" stroke-width="1"/>
<line x1="239.30" y1="292.17" x2="242.30" y2="292.17" stroke="#b3173f" stroke-width="1"/>
<polyline points="43.00,296.18 57.13,295.04 67.72,294.89 92.45,294.46 117.18,294.46 141.90,297.19 166.62,296.61 191.35,295.75 216.08,295.75 240.80,295.75" fill="none" stroke="#b3173f" stroke-width="1.05" stroke-linejoin="round"/>
<rect x="41.60" y="294.78" width="2.8" height="2.8" fill="#b3173f"/>
<rect x="55.73" y="293.64" width="2.8" height="2.8" fill="#b3173f"/>
<rect x="66.32" y="293.49" width="2.8" height="2.8" fill="#b3173f"/>
<rect x="91.05" y="293.06" width="2.8" height="2.8" fill="#b3173f"/>
<rect x="115.78" y="293.06" width="2.8" height="2.8" fill="#b3173f"/>
<rect x="140.50" y="295.79" width="2.8" height="2.8" fill="#b3173f"/>
<rect x="165.22" y="295.21" width="2.8" height="2.8" fill="#b3173f"/>
<rect x="189.95" y="294.35" width="2.8" height="2.8" fill="#b3173f"/>
<rect x="214.68" y="294.35" width="2.8" height="2.8" fill="#b3173f"/>
<rect x="239.40" y="294.35" width="2.8" height="2.8" fill="#b3173f"/>
<line x1="39.60" y1="220.40" x2="39.60" y2="310.25" stroke="#231f20" stroke-width="1.2"/>
<line x1="36.80" y1="309.85" x2="255.40" y2="309.85" stroke="#231f20" stroke-width="1.35"/>
<line x1="36.50" y1="295.38" x2="39.60" y2="295.38" stroke="#231f20" stroke-width="1"/>
<line x1="36.50" y1="281.00" x2="39.60" y2="281.00" stroke="#231f20" stroke-width="1"/>
<line x1="36.50" y1="266.62" x2="39.60" y2="266.62" stroke="#231f20" stroke-width="1"/>
<line x1="36.50" y1="252.25" x2="39.60" y2="252.25" stroke="#231f20" stroke-width="1"/>
<line x1="36.50" y1="237.88" x2="39.60" y2="237.88" stroke="#231f20" stroke-width="1"/>
<line x1="36.50" y1="223.50" x2="39.60" y2="223.50" stroke="#231f20" stroke-width="1"/>
<text transform="translate(28.827,312.100) scale(1.0000,1)" style="font-size:7.877px;fill:#231f20;white-space:pre;stroke:#231f20;stroke-width:0.22px;">0</text>
<text transform="translate(20.065,297.725) scale(1.0000,1)" style="font-size:7.877px;fill:#231f20;white-space:pre;stroke:#231f20;stroke-width:0.22px;">100</text>
<text transform="translate(20.065,283.350) scale(1.0000,1)" style="font-size:7.877px;fill:#231f20;white-space:pre;stroke:#231f20;stroke-width:0.22px;">200</text>
<text transform="translate(20.065,268.975) scale(1.0000,1)" style="font-size:7.877px;fill:#231f20;white-space:pre;stroke:#231f20;stroke-width:0.22px;">300</text>
<text transform="translate(20.065,254.600) scale(1.0000,1)" style="font-size:7.877px;fill:#231f20;white-space:pre;stroke:#231f20;stroke-width:0.22px;">400</text>
<text transform="translate(20.065,240.225) scale(1.0000,1)" style="font-size:7.877px;fill:#231f20;white-space:pre;stroke:#231f20;stroke-width:0.22px;">500</text>
<text transform="translate(20.065,225.850) scale(1.0000,1)" style="font-size:7.877px;fill:#231f20;white-space:pre;stroke:#231f20;stroke-width:0.22px;">600</text>
<line x1="43.00" y1="309.75" x2="43.00" y2="312.75" stroke="#231f20" stroke-width="1"/>
<text transform="translate(40.690,322.700) scale(1.0000,1)" style="font-size:8.307px;fill:#231f20;white-space:pre;stroke:#231f20;stroke-width:0.22px;">0</text>
<line x1="67.72" y1="309.75" x2="67.72" y2="312.75" stroke="#231f20" stroke-width="1"/>
<text transform="translate(65.377,322.700) scale(1.0000,1)" style="font-size:8.430px;fill:#231f20;white-space:pre;stroke:#231f20;stroke-width:0.22px;">7</text>
<line x1="92.45" y1="309.75" x2="92.45" y2="312.75" stroke="#231f20" stroke-width="1"/>
<text transform="translate(87.564,322.700) scale(1.0000,1)" style="font-size:8.430px;fill:#231f20;white-space:pre;stroke:#231f20;stroke-width:0.22px;">14</text>
<line x1="117.18" y1="309.75" x2="117.18" y2="312.75" stroke="#231f20" stroke-width="1"/>
<text transform="translate(112.549,322.700) scale(1.0000,1)" style="font-size:8.307px;fill:#231f20;white-space:pre;stroke:#231f20;stroke-width:0.22px;">21</text>
<line x1="141.90" y1="309.75" x2="141.90" y2="312.75" stroke="#231f20" stroke-width="1"/>
<text transform="translate(137.252,322.700) scale(1.0000,1)" style="font-size:8.307px;fill:#231f20;white-space:pre;stroke:#231f20;stroke-width:0.22px;">28</text>
<line x1="166.62" y1="309.75" x2="166.62" y2="312.75" stroke="#231f20" stroke-width="1"/>
<text transform="translate(162.022,322.700) scale(1.0000,1)" style="font-size:8.307px;fill:#231f20;white-space:pre;stroke:#231f20;stroke-width:0.22px;">35</text>
<line x1="191.35" y1="309.75" x2="191.35" y2="312.75" stroke="#231f20" stroke-width="1"/>
<text transform="translate(186.844,322.700) scale(1.0000,1)" style="font-size:8.307px;fill:#231f20;white-space:pre;stroke:#231f20;stroke-width:0.22px;">42</text>
<line x1="216.08" y1="309.75" x2="216.08" y2="312.75" stroke="#231f20" stroke-width="1"/>
<text transform="translate(211.557,322.700) scale(1.0000,1)" style="font-size:8.307px;fill:#231f20;white-space:pre;stroke:#231f20;stroke-width:0.22px;">49</text>
<line x1="240.80" y1="309.75" x2="240.80" y2="312.75" stroke="#231f20" stroke-width="1"/>
<text transform="translate(236.197,322.700) scale(1.0000,1)" style="font-size:8.307px;fill:#231f20;white-space:pre;stroke:#231f20;stroke-width:0.22px;">56</text>
<text transform="translate(74.011,335.900) scale(0.6982,1)" style="font-size:10.281px;fill:#231f20;white-space:pre;stroke:#231f20;stroke-width:0.22px;;">Days since</text>
<text transform="translate(112.689,335.900) scale(0.7974,1)" style="font-size:9.798px;fill:#231f20;white-space:pre;stroke:#231f20;stroke-width:0.22px;;">first rondaptivon pegol injection</text>
<text transform="translate(14.500,286.830) rotate(-90) scale(0.7369,1)" style="font-size:9.246px;fill:#231f20;white-space:pre;stroke:#231f20;stroke-width:0.12px;">VWF:RCo (%)</text>
<text transform="translate(264.471,187.600) scale(1.1218,1)" style="font-weight:bold;font-size:11.047px;fill:#000;white-space:pre;stroke:#231f20;stroke-width:0.22px;;">D</text>
<text transform="translate(301.187,202.000) scale(1.0255,1)" style="font-size:9.660px;fill:#231f20;white-space:pre;stroke:#231f20;stroke-width:0.22px;;">Rondaptivon pegol injections</text>
<line x1="301.00" y1="207.30" x2="301.00" y2="212.00" stroke="#231f20" stroke-width="1"/>
<path d="M299.10,210.90 L302.90,210.90 L301.00,215.60 Z" fill="#231f20"/>
<line x1="315.13" y1="207.30" x2="315.13" y2="212.00" stroke="#231f20" stroke-width="1"/>
<path d="M313.23,210.90 L317.03,210.90 L315.13,215.60 Z" fill="#231f20"/>
<line x1="325.73" y1="207.30" x2="325.73" y2="212.00" stroke="#231f20" stroke-width="1"/>
<path d="M323.83,210.90 L327.62,210.90 L325.73,215.60 Z" fill="#231f20"/>
<line x1="350.45" y1="207.30" x2="350.45" y2="212.00" stroke="#231f20" stroke-width="1"/>
<path d="M348.55,210.90 L352.35,210.90 L350.45,215.60 Z" fill="#231f20"/>
<line x1="375.18" y1="207.30" x2="375.18" y2="212.00" stroke="#231f20" stroke-width="1"/>
<path d="M373.28,210.90 L377.07,210.90 L375.18,215.60 Z" fill="#231f20"/>
<line x1="399.90" y1="207.30" x2="399.90" y2="212.00" stroke="#231f20" stroke-width="1"/>
<path d="M398.00,210.90 L401.80,210.90 L399.90,215.60 Z" fill="#231f20"/>
<polyline points="301.00,291.17 315.13,262.93 325.73,264.65 350.45,263.65 375.18,263.65 399.90,263.65 424.62,263.65 449.35,263.65 474.08,263.65 498.80,263.65" fill="none" stroke="#66708e" stroke-width="1.0" stroke-opacity="0.5" stroke-linejoin="round"/>
<polyline points="301.00,288.30 315.13,273.97 325.73,265.37 350.45,264.22 375.18,263.93 399.90,263.93 424.62,263.22 449.35,269.67 474.08,276.83 498.80,284.00" fill="none" stroke="#8088a4" stroke-width="1.0" stroke-opacity="0.5" stroke-linejoin="round"/>
<polyline points="301.00,292.60 315.13,276.83 325.73,266.80 350.45,264.51 375.18,264.51 399.90,264.22 424.62,263.93 449.35,272.53 474.08,279.70 498.80,286.87" fill="none" stroke="#6c7692" stroke-width="1.0" stroke-opacity="0.5" stroke-linejoin="round"/>
<polyline points="301.00,292.60 315.13,281.13 325.73,265.37 350.45,282.57 375.18,269.67 399.90,265.37 424.62,263.93 449.35,276.83 474.08,285.43 498.80,291.17" fill="none" stroke="#9096ae" stroke-width="1.0" stroke-opacity="0.5" stroke-linejoin="round"/>
<polyline points="301.00,295.47 315.13,288.30 325.73,284.00 350.45,268.23 375.18,278.27 399.90,272.53 424.62,266.80 449.35,273.97 474.08,286.87 498.80,292.60" fill="none" stroke="#68748f" stroke-width="1.0" stroke-opacity="0.5" stroke-linejoin="round"/>
<polyline points="301.00,296.18 315.13,286.87 325.73,278.27 350.45,273.97 375.18,266.80 399.90,275.40 424.62,268.23 449.35,278.27 474.08,289.73 498.80,294.03" fill="none" stroke="#66708e" stroke-width="1.0" stroke-opacity="0.5" stroke-linejoin="round"/>
<polyline points="301.00,294.03 315.13,282.57 325.73,272.53 350.45,266.80 375.18,273.97 399.90,266.80 424.62,266.08 449.35,275.40 474.08,284.00 498.80,289.73" fill="none" stroke="#8088a4" stroke-width="1.0" stroke-opacity="0.5" stroke-linejoin="round"/>
<polyline points="301.00,296.90 315.13,289.73 325.73,281.13 350.45,278.27 375.18,281.13 399.90,273.97 424.62,271.10 449.35,281.13 474.08,291.17 498.80,295.47 509.40,296.18" fill="none" stroke="#6c7692" stroke-width="1.0" stroke-opacity="0.5" stroke-linejoin="round"/>
<polyline points="301.00,297.62 315.13,291.17 325.73,284.00 350.45,282.57 375.18,284.00 399.90,278.27 424.62,273.97 449.35,284.00 474.08,292.60 498.80,296.18" fill="none" stroke="#9096ae" stroke-width="1.0" stroke-opacity="0.5" stroke-linejoin="round"/>
<polyline points="301.00,298.33 315.13,292.60 325.73,286.87 350.45,288.30 375.18,286.87 399.90,282.57 424.62,282.14 449.35,288.30 474.08,294.03 498.80,296.90" fill="none" stroke="#68748f" stroke-width="1.0" stroke-opacity="0.5" stroke-linejoin="round"/>
<polyline points="301.00,299.77 315.13,294.03 325.73,289.73 350.45,289.73 375.18,289.73 399.90,286.87 424.62,286.87 449.35,292.60 474.08,296.18 498.80,298.33" fill="none" stroke="#66708e" stroke-width="1.0" stroke-opacity="0.5" stroke-linejoin="round"/>
<polyline points="301.00,301.20 315.13,296.90 325.73,292.60 350.45,288.30 375.18,291.17 399.90,289.73 424.62,288.30 449.35,295.47 474.08,297.62 498.80,299.48" fill="none" stroke="#8088a4" stroke-width="1.0" stroke-opacity="0.5" stroke-linejoin="round"/>
<polyline points="301.00,302.63 315.13,299.77 325.73,297.62 350.45,294.03 375.18,298.33 399.90,294.03 424.62,292.60 449.35,296.90 474.08,299.77 498.80,300.91" fill="none" stroke="#6c7692" stroke-width="1.0" stroke-opacity="0.5" stroke-linejoin="round"/>
<polyline points="301.00,294.75 315.13,285.43 325.73,273.97 350.45,265.37 375.18,265.08 399.90,264.65 424.62,264.22 449.35,271.10 474.08,281.13 498.80,288.30" fill="none" stroke="#9096ae" stroke-width="1.0" stroke-opacity="0.5" stroke-linejoin="round"/>
<line x1="301.00" y1="298.91" x2="301.00" y2="292.89" stroke="#d03a66" stroke-width="1.0"/>
<line x1="299.50" y1="298.91" x2="302.50" y2="298.91" stroke="#b3173f" stroke-width="1"/>
<line x1="299.50" y1="292.89" x2="302.50" y2="292.89" stroke="#b3173f" stroke-width="1"/>
<line x1="315.13" y1="291.17" x2="315.13" y2="277.41" stroke="#d03a66" stroke-width="1.0"/>
<line x1="313.63" y1="291.17" x2="316.63" y2="291.17" stroke="#b3173f" stroke-width="1"/>
<line x1="313.63" y1="277.41" x2="316.63" y2="277.41" stroke="#b3173f" stroke-width="1"/>
<line x1="325.73" y1="288.30" x2="325.73" y2="270.24" stroke="#d03a66" stroke-width="1.0"/>
<line x1="324.23" y1="288.30" x2="327.23" y2="288.30" stroke="#b3173f" stroke-width="1"/>
<line x1="324.23" y1="270.24" x2="327.23" y2="270.24" stroke="#b3173f" stroke-width="1"/>
<line x1="350.45" y1="286.72" x2="350.45" y2="265.37" stroke="#d03a66" stroke-width="1.0"/>
<line x1="348.95" y1="286.72" x2="351.95" y2="286.72" stroke="#b3173f" stroke-width="1"/>
<line x1="348.95" y1="265.37" x2="351.95" y2="265.37" stroke="#b3173f" stroke-width="1"/>
<line x1="375.18" y1="285.43" x2="375.18" y2="264.22" stroke="#d03a66" stroke-width="1.0"/>
<line x1="373.68" y1="285.43" x2="376.68" y2="285.43" stroke="#b3173f" stroke-width="1"/>
<line x1="373.68" y1="264.22" x2="376.68" y2="264.22" stroke="#b3173f" stroke-width="1"/>
<line x1="399.90" y1="282.85" x2="399.90" y2="263.79" stroke="#d03a66" stroke-width="1.0"/>
<line x1="398.40" y1="282.85" x2="401.40" y2="282.85" stroke="#b3173f" stroke-width="1"/>
<line x1="398.40" y1="263.79" x2="401.40" y2="263.79" stroke="#b3173f" stroke-width="1"/>
<line x1="424.62" y1="278.27" x2="424.62" y2="263.22" stroke="#d03a66" stroke-width="1.0"/>
<line x1="423.12" y1="278.27" x2="426.12" y2="278.27" stroke="#b3173f" stroke-width="1"/>
<line x1="423.12" y1="263.22" x2="426.12" y2="263.22" stroke="#b3173f" stroke-width="1"/>
<line x1="449.35" y1="290.16" x2="449.35" y2="273.97" stroke="#d03a66" stroke-width="1.0"/>
<line x1="447.85" y1="290.16" x2="450.85" y2="290.16" stroke="#b3173f" stroke-width="1"/>
<line x1="447.85" y1="273.97" x2="450.85" y2="273.97" stroke="#b3173f" stroke-width="1"/>
<line x1="474.08" y1="294.32" x2="474.08" y2="280.13" stroke="#d03a66" stroke-width="1.0"/>
<line x1="472.58" y1="294.32" x2="475.58" y2="294.32" stroke="#b3173f" stroke-width="1"/>
<line x1="472.58" y1="280.13" x2="475.58" y2="280.13" stroke="#b3173f" stroke-width="1"/>
<line x1="498.80" y1="296.18" x2="498.80" y2="289.59" stroke="#d03a66" stroke-width="1.0"/>
<line x1="497.30" y1="296.18" x2="500.30" y2="296.18" stroke="#b3173f" stroke-width="1"/>
<line x1="497.30" y1="289.59" x2="500.30" y2="289.59" stroke="#b3173f" stroke-width="1"/>
<polyline points="301.00,295.61 315.13,288.87 325.73,276.83 350.45,271.96 375.18,275.11 399.90,269.09 424.62,264.65 449.35,276.98 474.08,290.02 498.80,293.75" fill="none" stroke="#b3173f" stroke-width="1.05" stroke-linejoin="round"/>
<rect x="299.60" y="294.21" width="2.8" height="2.8" fill="#b3173f"/>
<rect x="313.73" y="287.47" width="2.8" height="2.8" fill="#b3173f"/>
<rect x="324.33" y="275.43" width="2.8" height="2.8" fill="#b3173f"/>
<rect x="349.05" y="270.56" width="2.8" height="2.8" fill="#b3173f"/>
<rect x="373.78" y="273.71" width="2.8" height="2.8" fill="#b3173f"/>
<rect x="398.50" y="267.69" width="2.8" height="2.8" fill="#b3173f"/>
<rect x="423.23" y="263.25" width="2.8" height="2.8" fill="#b3173f"/>
<rect x="447.95" y="275.58" width="2.8" height="2.8" fill="#b3173f"/>
<rect x="472.68" y="288.62" width="2.8" height="2.8" fill="#b3173f"/>
<rect x="497.40" y="292.35" width="2.8" height="2.8" fill="#b3173f"/>
<line x1="297.60" y1="220.40" x2="297.60" y2="310.25" stroke="#231f20" stroke-width="1.2"/>
<line x1="294.80" y1="309.85" x2="513.40" y2="309.85" stroke="#231f20" stroke-width="1.35"/>
<line x1="294.50" y1="295.38" x2="297.60" y2="295.38" stroke="#231f20" stroke-width="1"/>
<line x1="294.50" y1="281.00" x2="297.60" y2="281.00" stroke="#231f20" stroke-width="1"/>
<line x1="294.50" y1="266.62" x2="297.60" y2="266.62" stroke="#231f20" stroke-width="1"/>
<line x1="294.50" y1="252.25" x2="297.60" y2="252.25" stroke="#231f20" stroke-width="1"/>
<line x1="294.50" y1="237.88" x2="297.60" y2="237.88" stroke="#231f20" stroke-width="1"/>
<line x1="294.50" y1="223.50" x2="297.60" y2="223.50" stroke="#231f20" stroke-width="1"/>
<text transform="translate(286.827,312.100) scale(1.0000,1)" style="font-size:7.877px;fill:#231f20;white-space:pre;stroke:#231f20;stroke-width:0.22px;">0</text>
<text transform="translate(278.065,297.725) scale(1.0000,1)" style="font-size:7.877px;fill:#231f20;white-space:pre;stroke:#231f20;stroke-width:0.22px;">100</text>
<text transform="translate(278.065,283.350) scale(1.0000,1)" style="font-size:7.877px;fill:#231f20;white-space:pre;stroke:#231f20;stroke-width:0.22px;">200</text>
<text transform="translate(278.065,268.975) scale(1.0000,1)" style="font-size:7.877px;fill:#231f20;white-space:pre;stroke:#231f20;stroke-width:0.22px;">300</text>
<text transform="translate(278.065,254.600) scale(1.0000,1)" style="font-size:7.877px;fill:#231f20;white-space:pre;stroke:#231f20;stroke-width:0.22px;">400</text>
<text transform="translate(278.065,240.225) scale(1.0000,1)" style="font-size:7.877px;fill:#231f20;white-space:pre;stroke:#231f20;stroke-width:0.22px;">500</text>
<text transform="translate(278.065,225.850) scale(1.0000,1)" style="font-size:7.877px;fill:#231f20;white-space:pre;stroke:#231f20;stroke-width:0.22px;">600</text>
<line x1="301.00" y1="309.75" x2="301.00" y2="312.75" stroke="#231f20" stroke-width="1"/>
<text transform="translate(298.690,322.700) scale(1.0000,1)" style="font-size:8.307px;fill:#231f20;white-space:pre;stroke:#231f20;stroke-width:0.22px;">0</text>
<line x1="325.73" y1="309.75" x2="325.73" y2="312.75" stroke="#231f20" stroke-width="1"/>
<text transform="translate(323.377,322.700) scale(1.0000,1)" style="font-size:8.430px;fill:#231f20;white-space:pre;stroke:#231f20;stroke-width:0.22px;">7</text>
<line x1="350.45" y1="309.75" x2="350.45" y2="312.75" stroke="#231f20" stroke-width="1"/>
<text transform="translate(345.564,322.700) scale(1.0000,1)" style="font-size:8.430px;fill:#231f20;white-space:pre;stroke:#231f20;stroke-width:0.22px;">14</text>
<line x1="375.18" y1="309.75" x2="375.18" y2="312.75" stroke="#231f20" stroke-width="1"/>
<text transform="translate(370.549,322.700) scale(1.0000,1)" style="font-size:8.307px;fill:#231f20;white-space:pre;stroke:#231f20;stroke-width:0.22px;">21</text>
<line x1="399.90" y1="309.75" x2="399.90" y2="312.75" stroke="#231f20" stroke-width="1"/>
<text transform="translate(395.252,322.700) scale(1.0000,1)" style="font-size:8.307px;fill:#231f20;white-space:pre;stroke:#231f20;stroke-width:0.22px;">28</text>
<line x1="424.62" y1="309.75" x2="424.62" y2="312.75" stroke="#231f20" stroke-width="1"/>
<text transform="translate(420.022,322.700) scale(1.0000,1)" style="font-size:8.307px;fill:#231f20;white-space:pre;stroke:#231f20;stroke-width:0.22px;">35</text>
<line x1="449.35" y1="309.75" x2="449.35" y2="312.75" stroke="#231f20" stroke-width="1"/>
<text transform="translate(444.844,322.700) scale(1.0000,1)" style="font-size:8.307px;fill:#231f20;white-space:pre;stroke:#231f20;stroke-width:0.22px;">42</text>
<line x1="474.08" y1="309.75" x2="474.08" y2="312.75" stroke="#231f20" stroke-width="1"/>
<text transform="translate(469.557,322.700) scale(1.0000,1)" style="font-size:8.307px;fill:#231f20;white-space:pre;stroke:#231f20;stroke-width:0.22px;">49</text>
<line x1="498.80" y1="309.75" x2="498.80" y2="312.75" stroke="#231f20" stroke-width="1"/>
<text transform="translate(494.197,322.700) scale(1.0000,1)" style="font-size:8.307px;fill:#231f20;white-space:pre;stroke:#231f20;stroke-width:0.22px;">56</text>
<text transform="translate(332.011,335.900) scale(0.6982,1)" style="font-size:10.281px;fill:#231f20;white-space:pre;stroke:#231f20;stroke-width:0.22px;;">Days since</text>
<text transform="translate(370.689,335.900) scale(0.7974,1)" style="font-size:9.798px;fill:#231f20;white-space:pre;stroke:#231f20;stroke-width:0.22px;;">first rondaptivon pegol injection</text>
<text transform="translate(272.700,285.730) rotate(-90) scale(0.7204,1)" style="font-size:9.522px;fill:#231f20;white-space:pre;stroke:#231f20;stroke-width:0.12px;">VWF: CB (%)</text>
</g>
<rect x="0.5" y="0.5" width="519" height="344" fill="none" stroke="#545454" stroke-width="1"/>
</svg></div>
</body></html>
